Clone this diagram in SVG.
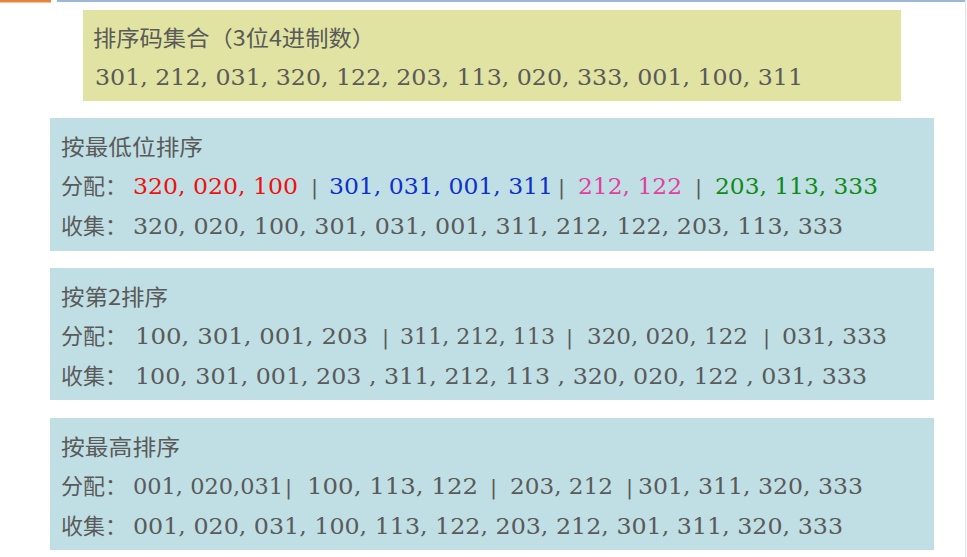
<svg xmlns="http://www.w3.org/2000/svg" width="967" height="557" viewBox="0 0 967 557">
<style>
.bg{fill:#ffffff}
.yel{fill:#e0e3a1}
.blu{fill:#c0dfe4}
.cjk{font-family:"Noto Sans CJK SC","Noto Sans",sans-serif;font-size:22px;fill:#5a5a5a}
.num{font-family:"DejaVu Serif","Liberation Serif",serif;font-size:22px;fill:#5a5a5a}
.sep{font-family:"DejaVu Serif","Liberation Serif",serif;font-size:21px;fill:#5a5a5a}
.red{fill:#f01010}
.blue{fill:#1030c8}
.pink{fill:#e040a0}
.green{fill:#108a18}
</style>
<rect class="bg" x="0" y="0" width="967" height="557"/>
<g id="frame">
<rect x="0" y="0" width="51" height="2.5" fill="#e8843c"/>
<rect x="57" y="0" width="909" height="2" fill="#9cb8d6"/>
<rect x="965" y="0" width="1.2" height="557" fill="#dfe4ea"/>
</g>
<g id="codes">
<rect class="yel" x="83" y="10" width="818" height="91"/>
<text class="cjk" x="93" y="46" textLength="282" lengthAdjust="spacingAndGlyphs">排序码集合（3位4进制数）</text>
<text class="num" x="95" y="85" textLength="708" lengthAdjust="spacingAndGlyphs">301, 212, 031, 320, 122, 203, 113, 020, 333, 001, 100, 311</text>
</g>
<g id="pass1">
<rect class="blu" x="50" y="118" width="884" height="133"/>
<text class="cjk" x="61" y="155" textLength="142" lengthAdjust="spacingAndGlyphs">按最低位排序</text>
<text class="cjk" x="61" y="194">分配：</text>
<text class="num red" x="133" y="194" textLength="165" lengthAdjust="spacingAndGlyphs">320, 020, 100</text>
<text class="sep" x="311" y="194">|</text>
<text class="num blue" x="329" y="194" textLength="224" lengthAdjust="spacingAndGlyphs">301, 031, 001, 311</text>
<text class="sep" x="558" y="194">|</text>
<text class="num pink" x="578" y="194" textLength="104" lengthAdjust="spacingAndGlyphs">212, 122</text>
<text class="sep" x="695" y="194">|</text>
<text class="num green" x="715" y="194" textLength="163" lengthAdjust="spacingAndGlyphs">203, 113, 333</text>
<text class="cjk" x="61" y="234">收集：</text>
<text class="num" x="133" y="234" textLength="710" lengthAdjust="spacingAndGlyphs">320, 020, 100, 301, 031, 001, 311, 212, 122, 203, 113, 333</text>
</g>
<g id="pass2">
<rect class="blu" x="50" y="268" width="884" height="132"/>
<text class="cjk" x="61" y="305" textLength="107" lengthAdjust="spacingAndGlyphs">按第2排序</text>
<text class="cjk" x="61" y="344">分配：</text>
<text class="num" x="135" y="344" textLength="233" lengthAdjust="spacingAndGlyphs">100, 301, 001, 203</text>
<text class="sep" x="382" y="344">|</text>
<text class="num" x="400" y="344" textLength="155" lengthAdjust="spacingAndGlyphs">311, 212, 113</text>
<text class="sep" x="566" y="344">|</text>
<text class="num" x="587" y="344" textLength="161" lengthAdjust="spacingAndGlyphs">320, 020, 122</text>
<text class="sep" x="763" y="344">|</text>
<text class="num" x="782" y="344" textLength="105" lengthAdjust="spacingAndGlyphs">031, 333</text>
<text class="cjk" x="61" y="384">收集：</text>
<text class="num" x="135" y="384" textLength="732" lengthAdjust="spacingAndGlyphs">100, 301, 001, 203 , 311, 212, 113 , 320, 020, 122 , 031, 333</text>
</g>
<g id="pass3">
<rect class="blu" x="50" y="418" width="884" height="132"/>
<text class="cjk" x="61" y="455" textLength="119" lengthAdjust="spacingAndGlyphs">按最高排序</text>
<text class="cjk" x="61" y="494">分配：</text>
<text class="num" x="133" y="494" textLength="150" lengthAdjust="spacingAndGlyphs">001, 020,031</text>
<text class="sep" x="285" y="494">|</text>
<text class="num" x="307" y="494" textLength="171" lengthAdjust="spacingAndGlyphs">100, 113, 122</text>
<text class="sep" x="490" y="494">|</text>
<text class="num" x="510" y="494" textLength="103" lengthAdjust="spacingAndGlyphs">203, 212</text>
<text class="sep" x="626" y="494">|</text>
<text class="num" x="638" y="494" textLength="225" lengthAdjust="spacingAndGlyphs">301, 311, 320, 333</text>
<text class="cjk" x="61" y="534">收集：</text>
<text class="num" x="133" y="534" textLength="710" lengthAdjust="spacingAndGlyphs">001, 020, 031, 100, 113, 122, 203, 212, 301, 311, 320, 333</text>
</g>
</svg>
